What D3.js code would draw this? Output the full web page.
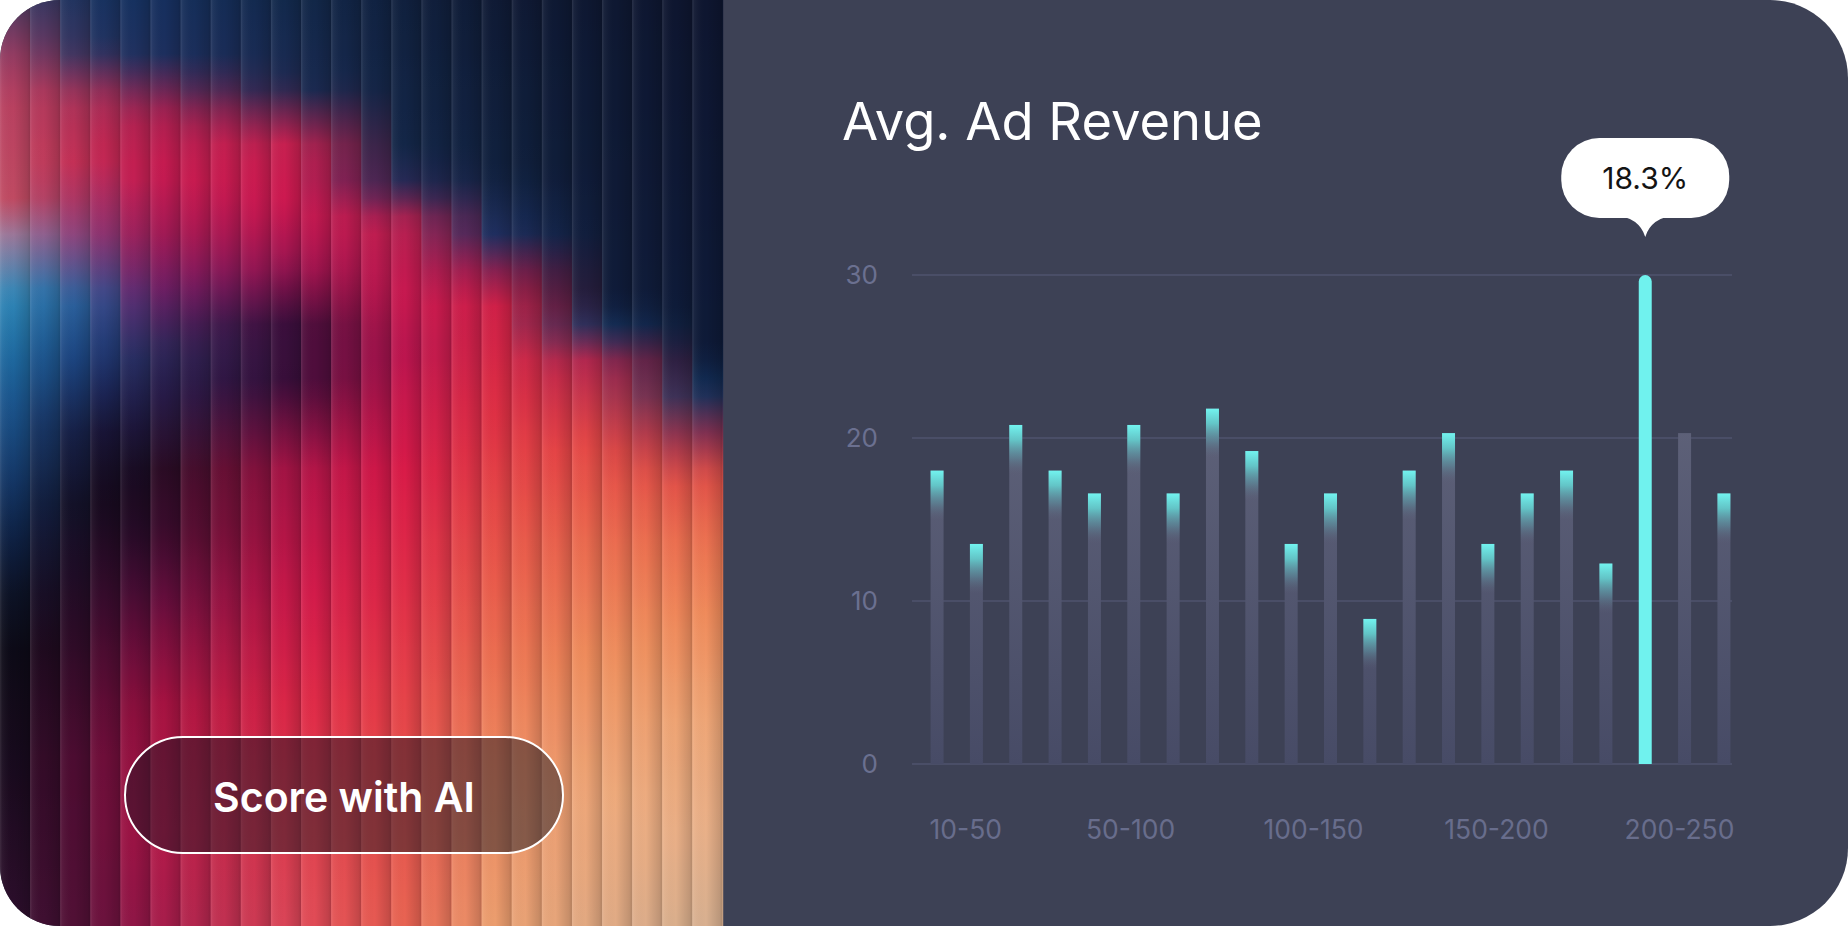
<!DOCTYPE html>
<html><head><meta charset="utf-8">
<script src="https://cdn.jsdelivr.net/npm/d3@7"></script>
<style>html,body{margin:0;padding:0;background:#fff;overflow:hidden}svg{display:block}</style>
</head><body>
<svg id="c" width="1848" height="926"></svg>
<script>
// ---------- data ----------
const title = "Avg. Ad Revenue";
const buttonText = "Score with AI";
const tooltipText = "18.3%";
const values = [18, 13.5, 20.8, 18, 16.6, 20.8, 16.6, 21.8, 19.2, 13.5, 16.6, 8.9, 18, 20.3, 13.5, 16.6, 18, 12.3, 30, 20.3, 16.6];
const barKind = ["cap","cap","cap","cap","cap","cap","cap","cap","cap","cap","cap","cap","cap","cap","cap","cap","cap","cap","highlight","plain","cap"];
const yTicks = [0, 10, 20, 30];
const xLabels = ["10-50", "50-100", "100-150", "150-200", "200-250"];
const xLabelRanges = [[10, 50], [50, 100], [100, 150], [150, 200], [200, 250]];

// decorative artwork colour profiles (column x, [y, colour])
const artProfiles = [
  {x: 15, stops: [[0,"#4a3a62"],[60,"#9a3c62"],[100,"#b84060"],[200,"#c04a62"],[236,"#9a7a9c"],[295,"#3088b8"],[354,"#1e6aa0"],[413,"#1a5088"],[472,"#153a6a"],[532,"#0e2246"],[591,"#0c1226"],[650,"#0c0a16"],[780,"#1a0a1e"],[926,"#2e0e2c"]]},
  {x: 90, stops: [[0,"#183360"],[50,"#243462"],[100,"#a83058"],[160,"#c82a52"],[236,"#8a3a78"],[300,"#2a5a98"],[360,"#1c3c78"],[430,"#16163a"],[500,"#120a1c"],[600,"#2a0a26"],[760,"#5a0c36"],[926,"#5a1038"]]},
  {x: 150, stops: [[0,"#163060"],[59,"#1e3060"],[118,"#b02050"],[177,"#c81a50"],[236,"#a01a55"],[295,"#6a2068"],[354,"#2c2a5c"],[400,"#221c48"],[472,"#1a0a20"],[532,"#2a0a28"],[591,"#500c38"],[650,"#7a0e3e"],[709,"#a01040"],[827,"#b01448"],[926,"#a0184a"]]},
  {x: 300, stops: [[0,"#12284a"],[89,"#1a2a52"],[148,"#c82050"],[207,"#d01850"],[266,"#a01450"],[325,"#3a0c38"],[384,"#3a0c38"],[472,"#b01448"],[591,"#d0184a"],[709,"#e02848"],[827,"#e04050"],[926,"#e04858"]]},
  {x: 400, stops: [[0,"#10203f"],[150,"#132648"],[189,"#2a2a58"],[224,"#c02050"],[295,"#c81850"],[354,"#b81450"],[471,"#d81848"],[589,"#e02a48"],[707,"#e64048"],[926,"#e86050"]]},
  {x: 500, stops: [[0,"#0f1a35"],[177,"#10213f"],[236,"#1a3060"],[272,"#8a2050"],[306,"#d02048"],[412,"#e03044"],[530,"#e85048"],[648,"#ec6e50"],[766,"#ee8a60"],[926,"#eca070"]]},
  {x: 600, stops: [[0,"#0e1832"],[300,"#0f1c3a"],[330,"#163260"],[365,"#b02850"],[448,"#e64a46"],[542,"#ec6c50"],[660,"#ef905e"],[800,"#eeaa7c"],[926,"#e2aa84"]]},
  {x: 700, stops: [[0,"#0e1630"],[354,"#0e1a38"],[395,"#13305a"],[440,"#8a3050"],[480,"#e05048"],[540,"#ec7050"],[620,"#f08c5c"],[720,"#efa676"],[827,"#eab088"],[926,"#d8b090"]]}
];

// ---------- setup ----------
const W = 1848, H = 926, split = 722.5;
const svg = d3.select("#c");
const defs = svg.append("defs");
const cardPath = `M60,0 H${W-78} A78,78 0 0 1 ${W},78 V${H-78} A78,78 0 0 1 ${W-78},${H} H60 A60,60 0 0 1 0,${H-60} V60 A60,60 0 0 1 60,0 Z`;
defs.append("clipPath").attr("id","card").append("path").attr("d", cardPath);

const root = svg.append("g").attr("clip-path","url(#card)");
root.append("rect").attr("width", W).attr("height", H).attr("fill", "#3d4155");

// ---------- left artwork ----------
const profScales = artProfiles.map(p => ({
  x: p.x,
  s: d3.scaleLinear().domain(p.stops.map(d => d[0])).range(p.stops.map(d => d[1])).interpolate(d3.interpolateRgb).clamp(true)
}));
function colorAt(px, py) {
  if (px <= profScales[0].x) return profScales[0].s(py);
  for (let k = 0; k < profScales.length - 1; k++) {
    const a = profScales[k], b = profScales[k+1];
    if (px <= b.x) return d3.interpolateRgb(a.s(py), b.s(py))((px - a.x) / (b.x - a.x));
  }
  return profScales[profScales.length-1].s(py);
}
const rib = defs.append("linearGradient").attr("id","rib").attr("x1",0).attr("x2",1).attr("y1",0).attr("y2",0);
[[0,"#fff",0.13],[0.07,"#fff",0.05],[0.45,"#000",0],[0.9,"#000",0.14],[1,"#000",0.22]].forEach(s =>
  rib.append("stop").attr("offset", s[0]).attr("stop-color", s[1]).attr("stop-opacity", s[2]));

const nStrips = 24, sw = split / nStrips;
const art = root.append("g");
d3.range(nStrips).forEach(i => {
  const scx = (i + 0.5) * sw;
  const gr = defs.append("linearGradient").attr("id", "strip" + i).attr("gradientUnits", "userSpaceOnUse")
    .attr("x1", scx).attr("y1", 0).attr("x2", scx + 25).attr("y2", H);
  d3.range(0, H + 1, 18).forEach(yy => gr.append("stop").attr("offset", yy / H).attr("stop-color", colorAt(scx, yy + (i % 2) * 4)));
  art.append("rect").attr("x", i * sw).attr("y", 0).attr("width", sw + 0.7).attr("height", H).attr("fill", `url(#strip${i})`);
  art.append("rect").attr("x", i * sw).attr("y", 0).attr("width", Math.min(sw, split - i * sw)).attr("height", H).attr("fill", "url(#rib)");
});

// button
const btn = root.append("g");
btn.append("rect").attr("x", 125).attr("y", 737).attr("width", 438).attr("height", 116).attr("rx", 58)
  .attr("fill", "rgba(22,20,34,0.48)").attr("stroke", "#fff").attr("stroke-width", 2);
btn.append("text").attr("x", 344).attr("y", 812).attr("text-anchor", "middle")
  .attr("font-family", "Inter, sans-serif").attr("font-weight", 600).attr("font-size", 41).attr("fill", "#fff").text(buttonText);

// ---------- chart ----------
const chart = root.append("g");
chart.append("text").attr("x", 842).attr("y", 140).attr("font-family", "Inter, sans-serif")
  .attr("font-size", 52.5).attr("font-weight", 400).attr("fill", "#fff").text(title);

const yS = d3.scaleLinear().domain([0, 30]).range([764, 275]);
const xS = d3.scaleBand().domain(d3.range(values.length)).range([917.4, 1743.6]).paddingInner(0.67).paddingOuter(0.335);
const xr = d3.scaleLinear().domain([0, 250]).range([856, 1771]);
const bw = xS.bandwidth();

// gridlines
chart.append("g").selectAll("line").data(yTicks).join("line")
  .attr("x1", 912).attr("x2", 1732).attr("y1", d => yS(d)).attr("y2", d => yS(d))
  .attr("stroke", "#4a4e67").attr("stroke-width", 2);

// y axis labels
const yAxis = d3.axisLeft(yS).tickValues(yTicks).tickSize(0).tickPadding(0);
const ya = chart.append("g").attr("transform", "translate(878,0)").call(yAxis);
ya.select(".domain").remove();
ya.selectAll("text").attr("font-family", "Inter, sans-serif").attr("font-size", 26).attr("fill", "#6b7090");

// x labels
chart.append("g").selectAll("text").data(xLabels).join("text")
  .attr("x", (d, i) => xr((xLabelRanges[i][0] + xLabelRanges[i][1]) / 2))
  .attr("y", 830).attr("dy", "0.35em").attr("text-anchor", "middle")
  .attr("font-family", "Inter, sans-serif").attr("font-size", 26.5).attr("fill", "#686d8c").text(d => d);

// gradients for bars
const gray = defs.append("linearGradient").attr("id", "gray").attr("gradientUnits", "userSpaceOnUse")
  .attr("x1", 0).attr("x2", 0).attr("y1", yS(30)).attr("y2", yS(0));
gray.append("stop").attr("offset", 0).attr("stop-color", "#676a80");
gray.append("stop").attr("offset", 1).attr("stop-color", "#474b66");
const cap = defs.append("linearGradient").attr("id", "cap").attr("x1", 0).attr("x2", 0).attr("y1", 0).attr("y2", 1);
[[0,"#72f3ef",1],[0.3,"#64d0d0",0.9],[0.65,"#5f97a6",0.55],[1,"#5e6279",0]].forEach(s =>
  cap.append("stop").attr("offset", s[0]).attr("stop-color", s[1]).attr("stop-opacity", s[2]));

const barsData = values.map((v, i) => ({i, v, kind: barKind[i]}));
const normal = barsData.filter(d => d.kind !== "highlight");
chart.append("g").selectAll("rect").data(normal).join("rect")
  .attr("x", d => xS(d.i)).attr("y", d => yS(d.v)).attr("width", bw).attr("height", d => yS(0) - yS(d.v))
  .attr("fill", "url(#gray)");
chart.append("g").selectAll("rect").data(normal.filter(d => d.kind === "cap")).join("rect")
  .attr("x", d => xS(d.i)).attr("y", d => yS(d.v)).attr("width", bw).attr("height", 50)
  .attr("fill", "url(#cap)");

const hl = barsData.find(d => d.kind === "highlight");
const hx = xS(hl.i), rr = bw / 2, hTop = yS(hl.v);
chart.append("path")
  .attr("d", `M${hx},${yS(0)} V${hTop + rr} A${rr},${rr} 0 0 1 ${hx + bw},${hTop + rr} V${yS(0)} Z`)
  .attr("fill", "#70f2ee");

// tooltip
const tcx = hx + bw / 2, tipY = hTop - 38;
const tip = chart.append("g");
tip.append("rect").attr("x", tcx - 84).attr("y", tipY - 99).attr("width", 168).attr("height", 80).attr("rx", 38).attr("fill", "#fff");
tip.append("path").attr("d", `M${tcx-32},${tipY-22} Q${tcx-6},${tipY-20} ${tcx},${tipY} Q${tcx+6},${tipY-20} ${tcx+32},${tipY-22} Z`).attr("fill", "#fff");
tip.append("text").attr("x", tcx).attr("y", tipY - 48).attr("text-anchor", "middle")
  .attr("font-family", "Inter, sans-serif").attr("font-size", 30).attr("fill", "#141414").text(tooltipText);
</script>
</body></html>
